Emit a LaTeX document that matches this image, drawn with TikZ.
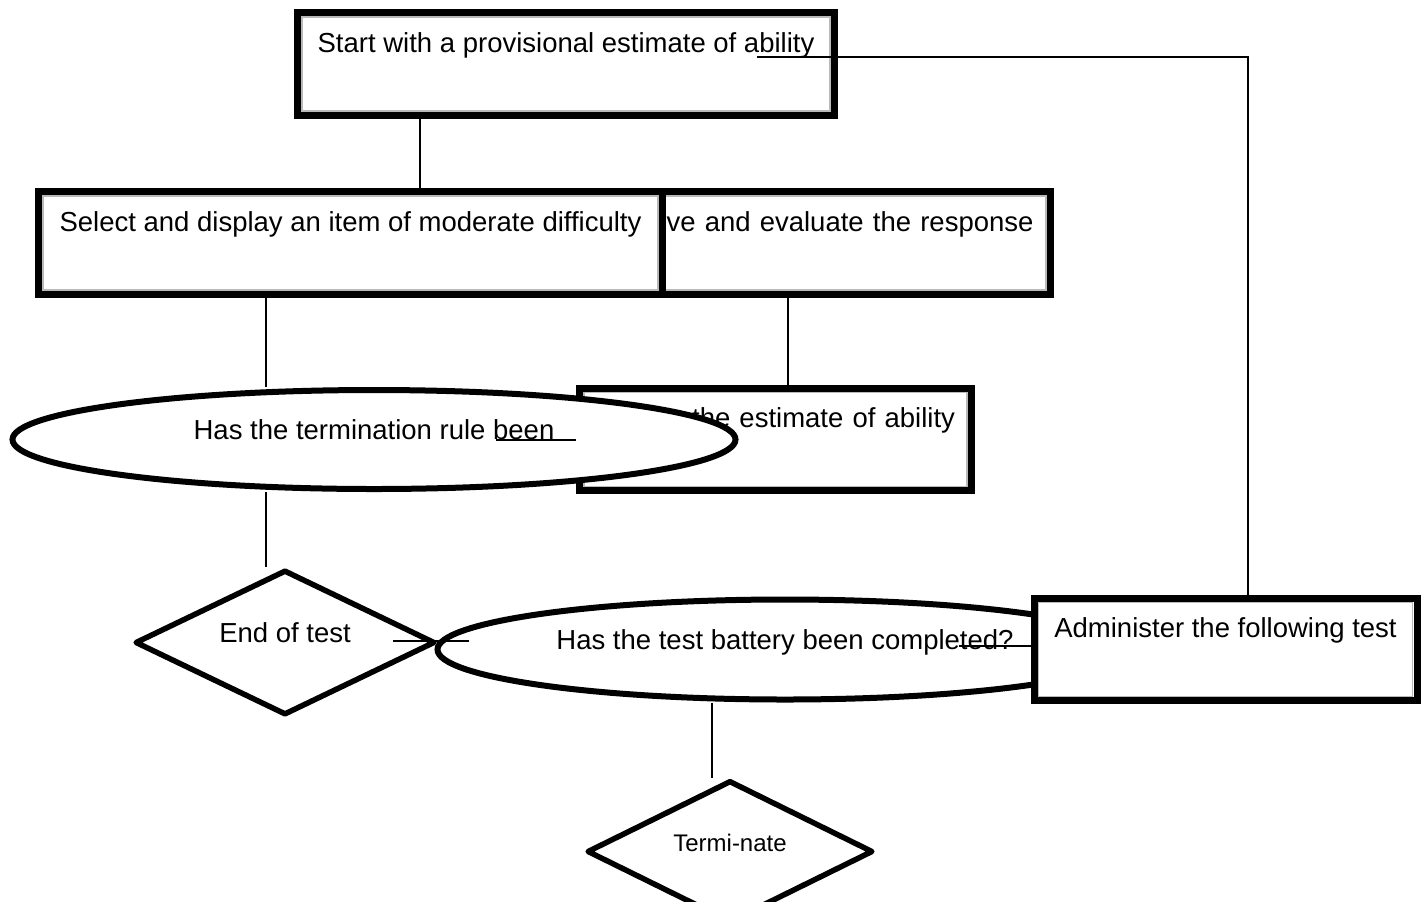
\documentclass[tikz,border=0pt]{standalone}
\usepackage{fontspec}
\setmainfont{Liberation Sans}
\usetikzlibrary{shapes,calc,positioning}

\begin{document}
\begin{tikzpicture}[x=0.5pt,y=-0.5pt,font=\fontsize{13.75pt}{16pt}\selectfont]

    \tikzstyle{procbox} = [draw, line width=3.5pt, fill=white, inner ysep=0pt,
        text height=19.75pt, text depth=31.5pt,
        path picture={\draw[gray!55, line width=0.75pt]
            ([shift={(2.2pt,2.2pt)}]path picture bounding box.south west) rectangle
            ([shift={(-2.2pt,-2.2pt)}]path picture bounding box.north east);}]

    \tikzstyle{question} = [draw, ellipse, line width=3pt, fill=white, inner sep=0pt,
        text height=10pt, text depth=10pt]

    \tikzstyle{terminal} = [draw, diamond, aspect=2, line width=2.75pt, line join=round,
        fill=white, inner sep=0pt, text height=10pt, text depth=10pt]

    \tikzstyle{link} = [line width=1pt]

    \useasboundingbox (0,0) rectangle (1424,901);
    \clip (0,0) rectangle (1424,901);

    % Item loop
    \node [procbox, minimum width=268.5pt] (start) at (566,64) {Start with a provisional estimate of ability};
    \node [procbox, minimum width=240pt, below of=start, node distance=89.5pt, xshift=122.25pt,
        align=right, inner xsep=8.5pt, text width=223pt] (observe) {rve and evaluate the response};
    \node [procbox, minimum width=312pt, left of=observe, node distance=230pt] (select) {Select and display an item of moderate difficulty};
    \node [procbox, minimum width=196pt, below of=observe, node distance=98.25pt, xshift=-17.5pt,
        align=right, inner xsep=8.25pt, text width=179.5pt] (revise) {the estimate of ability};
    \node [question, minimum width=361.5pt, minimum height=49.5pt, left of=revise, node distance=200.75pt] (rule) {Has the termination rule been};

    % Test battery
    \node [terminal, minimum width=150pt, minimum height=72.5pt, below of=rule, node distance=101.5pt, xshift=-44.5pt] (endtest) {End of test};
    \node [question, minimum width=347.5pt, minimum height=50pt, right of=endtest, node distance=250pt, yshift=-3.5pt] (battery) {Has the test battery been completed?};
    \node [procbox, minimum width=191.5pt, right of=battery, node distance=220.25pt] (admin) {Administer the following test};
    \node [terminal, minimum width=143pt, minimum height=71pt, below of=battery, node distance=101pt, xshift=-27.5pt,
        font=\fontsize{12pt}{14pt}\selectfont] (halt) {Termi-nate};

    % Connectors
    \coordinate (s1) at ($(start.south)+(-146,0)$);
    \draw [link] (s1) -- (s1 |- select.north);
    \coordinate (s2) at ($(select.south)+(-84.5,0)$);
    \draw [link] (s2) -- (s2 |- rule.north);
    \coordinate (s3) at ($(observe.south)+(-22.5,0)$);
    \draw [link] (s3) -- (s3 |- revise.north);
    \draw [link] (revise.west) -- ++(-80,0);
    \coordinate (s4) at ($(rule.south)+(-108,0)$);
    \draw [link] (s4) -- (s4 |- endtest.north);
    \coordinate (s5) at ($(endtest.east)+(-45,-2)$);
    \draw [link] (s5) -- ++(76,0);
    \coordinate (s6) at ($(battery.south)+(-73,0)$);
    \draw [link] (s6) -- (s6 |- halt.north);
    \coordinate (s7) at ($(admin.west)+(6,-3.5)$);
    \draw [link] (s7) -- ++(-78,0);
    \coordinate (s8) at ($(admin.north)+(22.5,0)$);
    \coordinate (s9) at ($(start.center)+(191,-7)$);
    \draw [link] (s8) |- (s9);

\end{tikzpicture}
\end{document}
